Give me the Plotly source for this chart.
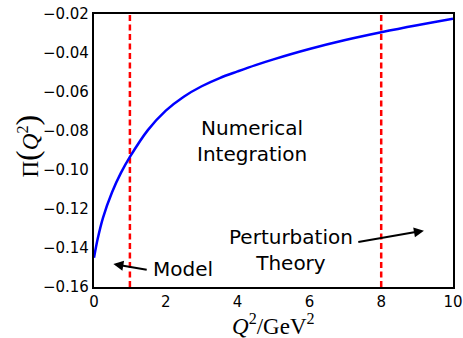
import plotly.graph_objects as go

# Vacuum polarisation function Pi(Q^2) versus Q^2 (GeV^2)
q2 = [0.0, 0.1, 0.25, 0.5, 0.75, 1.0, 1.5, 2.0, 2.5, 3.0, 3.5,
      4.0, 4.5, 5.0, 6.0, 7.0, 8.0, 9.0, 10.0]
pi_q2 = [-0.1450, -0.1355, -0.1245, -0.1115, -0.1015, -0.0933, -0.07955,
         -0.06955, -0.0624, -0.05705, -0.05285, -0.04945, -0.0462,
         -0.04325, -0.03795, -0.03335, -0.02935, -0.02575, -0.02245]

# Boundaries between the three regions
region_bounds = [1.0, 8.0]

x_ticks = [0, 2, 4, 6, 8, 10]
y_ticks = [-0.16, -0.14, -0.12, -0.10, -0.08, -0.06, -0.04, -0.02]

X_RANGE = [0, 10]
Y_RANGE = [-0.16, -0.02]

fig = go.Figure()

for xb in region_bounds:
    fig.add_trace(go.Scatter(
        x=[xb, xb], y=Y_RANGE, mode="lines",
        line=dict(color="#ff0000", width=2.5, dash="6px,3.5px"),
        showlegend=False, hoverinfo="skip",
    ))

fig.add_trace(go.Scatter(
    x=q2, y=pi_q2, mode="lines",
    line=dict(color="#0000ff", width=2.5, shape="spline", smoothing=1.0),
    showlegend=False,
))

label_font = dict(family="DejaVu Sans", size=20, color="black")
serif = "Liberation Serif"

annotations = [
    dict(x=4.40, y=-0.0852, text="Numerical<br>Integration",
         showarrow=False, font=label_font, xref="x", yref="y"),
    dict(x=5.49, y=-0.1410, text="Perturbation<br>Theory",
         showarrow=False, font=label_font, xref="x", yref="y"),
    dict(x=2.49, y=-0.1510, text="Model",
         showarrow=False, font=label_font, xref="x", yref="y"),
    # arrows
    dict(x=9.19, y=-0.1311, ax=7.32, ay=-0.1371, axref="x", ayref="y",
         xref="x", yref="y", text="", showarrow=True, arrowhead=2,
         arrowsize=1.0, arrowwidth=2, arrowcolor="black"),
    dict(x=0.54, y=-0.1482, ax=1.51, ay=-0.1513, axref="x", ayref="y",
         xref="x", yref="y", text="", showarrow=True, arrowhead=2,
         arrowsize=1.0, arrowwidth=2, arrowcolor="black"),
    # axis titles
    dict(x=0.5, y=0, xref="paper", yref="paper", yanchor="middle",
         yshift=-37, showarrow=False,
         text="<i>Q</i><sup>2</sup>/GeV<sup>2</sup>",
         font=dict(family=serif, size=23, color="black")),
    dict(x=0, y=0.5, xref="paper", yref="paper", xanchor="center",
         yanchor="middle", xshift=-68, yshift=4, textangle=-90,
         showarrow=False,
         text="Π<span style='font-size:32px'>(</span><i>Q</i><sup>2</sup>"
              "<span style='font-size:32px'>)</span>",
         font=dict(family=serif, size=23, color="black")),
]

fig.update_layout(
    width=463, height=338, autosize=False,
    margin=dict(l=94, r=10, t=14, b=51, autoexpand=False),
    paper_bgcolor="white", plot_bgcolor="white",
    font=dict(family="DejaVu Sans", size=15, color="black"),
    annotations=annotations,
)

fig.update_xaxes(
    range=X_RANGE, tickvals=x_ticks, ticks="", showgrid=False, zeroline=False,
    showline=True, mirror=True, linecolor="black", linewidth=2.2,
    automargin=False, tickfont=dict(family="DejaVu Sans", size=15),
)
fig.update_yaxes(
    range=Y_RANGE, tickvals=y_ticks, tickformat=".2f", ticks="",
    showgrid=False, zeroline=False, automargin=False,
    showline=True, mirror=True, linecolor="black", linewidth=2.2,
    tickfont=dict(family="DejaVu Sans", size=15),
)

fig.write_html("out.html")
